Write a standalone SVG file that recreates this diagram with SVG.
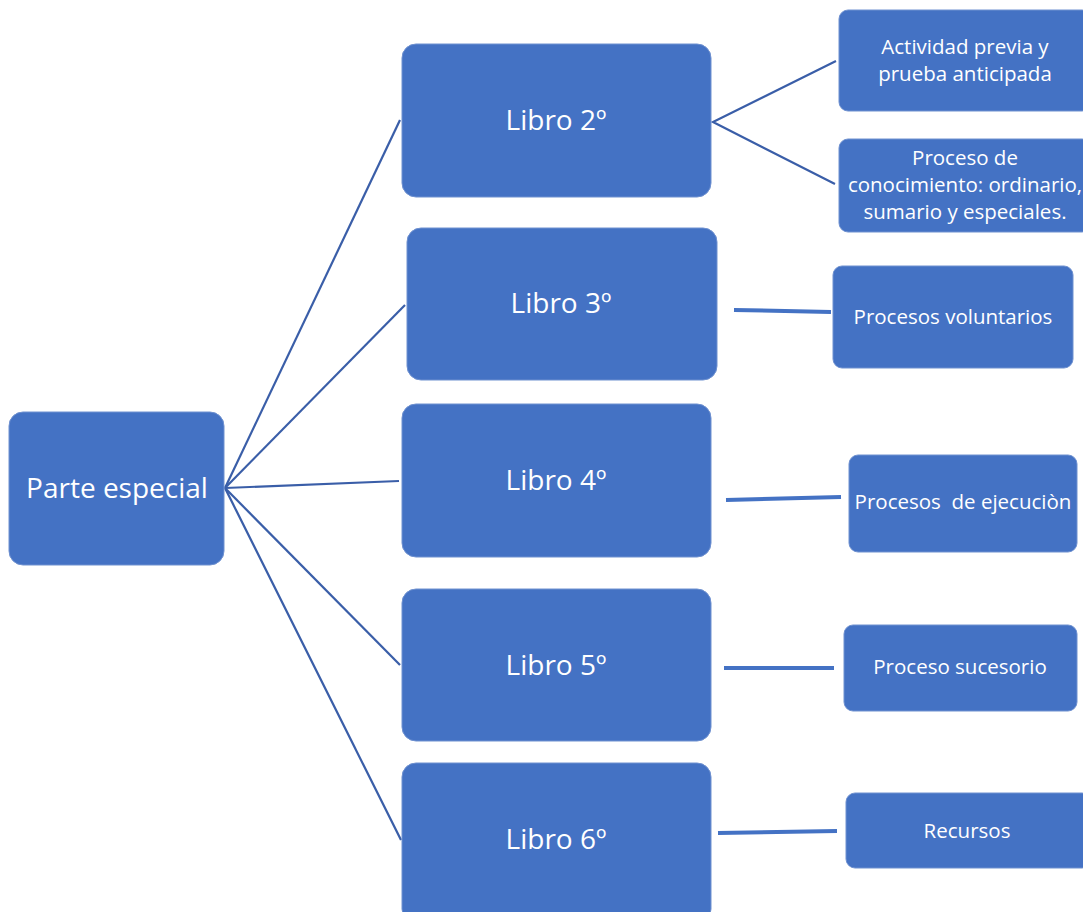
<svg xmlns="http://www.w3.org/2000/svg" width="1083" height="912" viewBox="0 0 1083 912">
<style>
.box{fill:#4472C4;stroke:#6f91d0;stroke-width:1}
.big{font-family:"Open Sans","Liberation Sans",sans-serif;font-size:28px;fill:#fff;text-anchor:middle}
.sm{font-family:"Open Sans","Liberation Sans",sans-serif;font-size:20.5px;fill:#fff;text-anchor:middle;white-space:pre}
.thin{stroke:#3a5ea8;stroke-width:2.2;fill:none}
.thick{stroke:#4472C4;stroke-width:4;fill:none}
</style>
<rect width="1083" height="912" fill="#fff"/>
<g id="connectors">
<line class="thin" x1="225" y1="488" x2="400" y2="120"/>
<line class="thin" x1="225" y1="488" x2="405" y2="305"/>
<line class="thin" x1="225" y1="488" x2="399" y2="481"/>
<line class="thin" x1="225" y1="488" x2="400" y2="665"/>
<line class="thin" x1="225" y1="488" x2="401" y2="840"/>
<polyline class="thin" points="836,61 713,122 835,184"/>
<line class="thick" x1="734" y1="310" x2="831" y2="312"/>
<line class="thick" x1="726" y1="500" x2="841" y2="497"/>
<line class="thick" x1="724" y1="668" x2="834" y2="668"/>
<line class="thick" x1="718" y1="833" x2="837" y2="831"/>
</g>
<g id="parte"><rect class="box" x="9" y="412" width="215" height="153" rx="14"/><text class="big" x="117" y="498">Parte especial</text></g>
<g id="libro2"><rect class="box" x="402" y="44" width="309" height="153" rx="14"/><text class="big" x="556" y="130">Libro 2º</text></g>
<g id="libro3"><rect class="box" x="407" y="228" width="310" height="152" rx="14"/><text class="big" x="561" y="313">Libro 3º</text></g>
<g id="libro4"><rect class="box" x="402" y="404" width="309" height="153" rx="14"/><text class="big" x="556" y="490">Libro 4º</text></g>
<g id="libro5"><rect class="box" x="402" y="589" width="309" height="152" rx="14"/><text class="big" x="556" y="675">Libro 5º</text></g>
<g id="libro6"><rect class="box" x="402" y="763" width="309" height="160" rx="14"/><text class="big" x="556" y="849">Libro 6º</text></g>
<g id="actividad"><rect class="box" x="839" y="10" width="252" height="101" rx="9"/><text class="sm" x="965" y="54">Actividad previa y</text><text class="sm" x="965" y="81">prueba anticipada</text></g>
<g id="conocimiento"><rect class="box" x="839" y="139" width="252" height="93" rx="9"/><text class="sm" x="965" y="165">Proceso de</text><text class="sm" x="965" y="192">conocimiento: ordinario,</text><text class="sm" x="965" y="219">sumario y especiales.</text></g>
<g id="voluntarios"><rect class="box" x="833" y="266" width="240" height="102" rx="9"/><text class="sm" x="953" y="324">Procesos voluntarios</text></g>
<g id="ejecucion"><rect class="box" x="849" y="455" width="228" height="97" rx="9"/><text class="sm" x="963" y="509">Procesos  de ejecuciòn</text></g>
<g id="sucesorio"><rect class="box" x="844" y="625" width="233" height="86" rx="9"/><text class="sm" x="960" y="674">Proceso sucesorio</text></g>
<g id="recursos"><rect class="box" x="846" y="793" width="245" height="75" rx="9"/><text class="sm" x="967" y="838">Recursos</text></g>
</svg>
